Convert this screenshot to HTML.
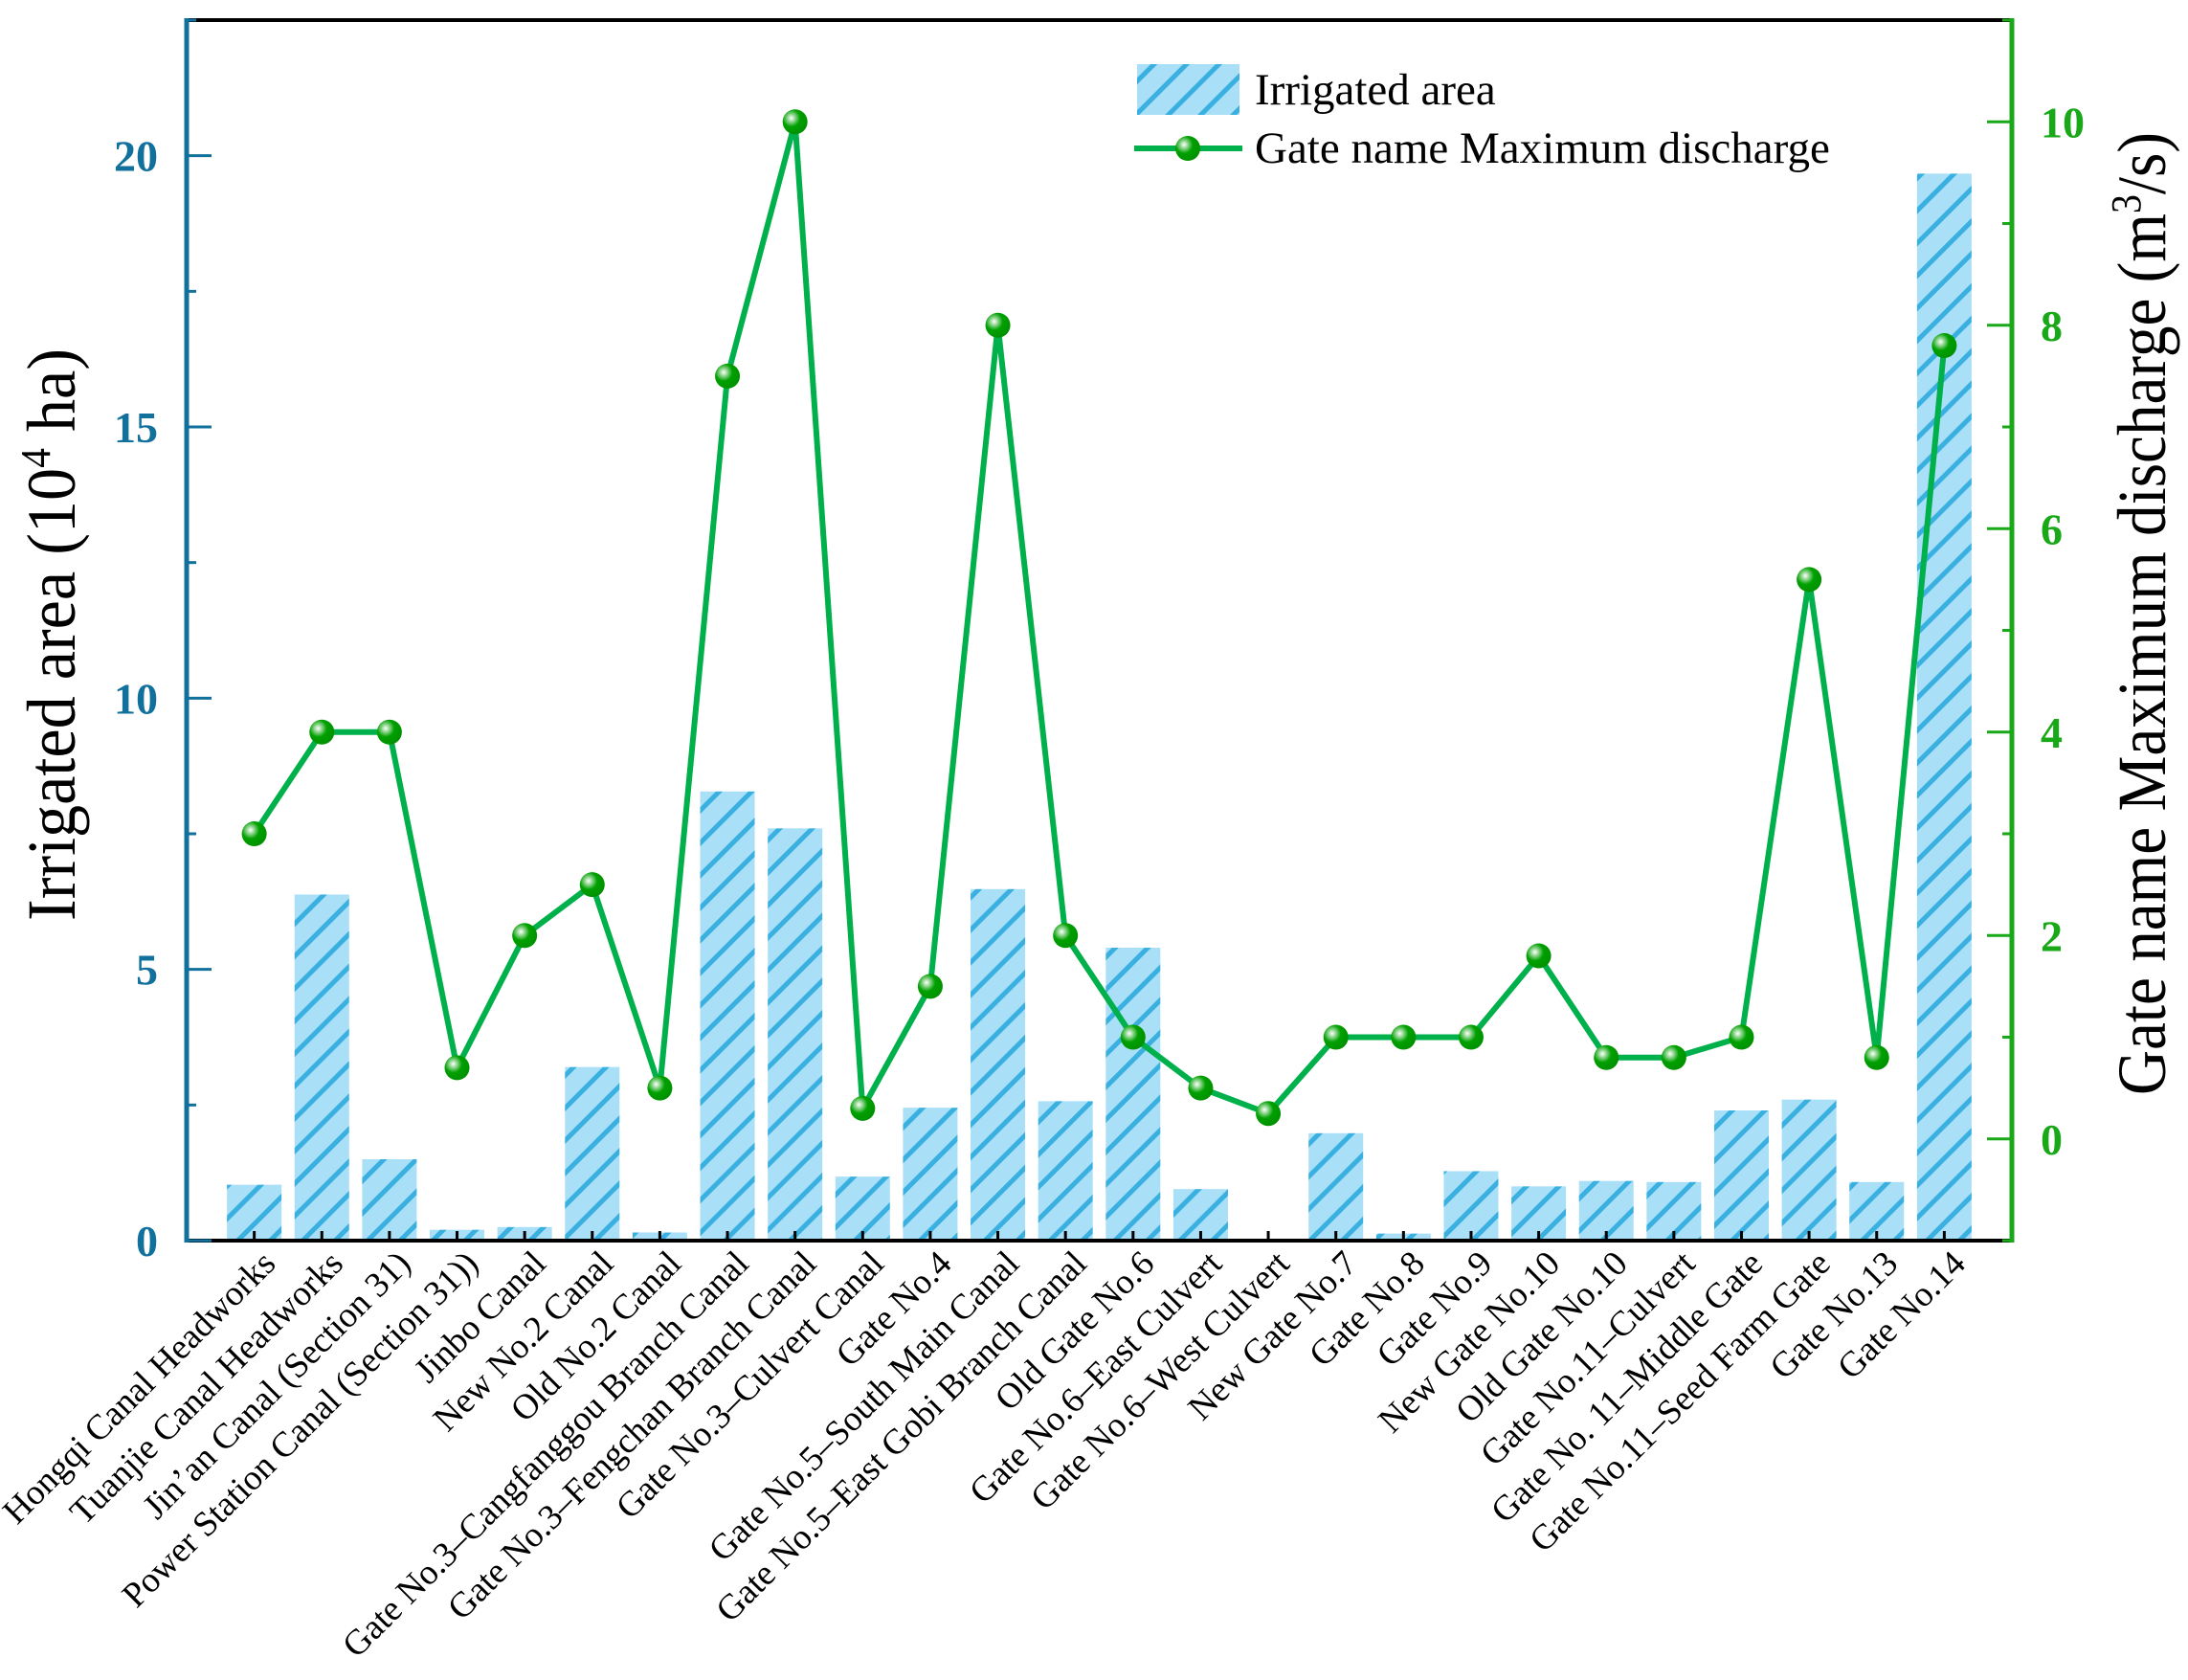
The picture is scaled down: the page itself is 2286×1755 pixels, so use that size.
<!DOCTYPE html>
<html><head><meta charset="utf-8"><style>
html,body{margin:0;padding:0;background:#fff}
svg{display:block;font-family:"Liberation Serif",serif}
</style></head><body>
<svg id="chart" width="2286" height="1755" viewBox="0 0 2286 1755" xmlns="http://www.w3.org/2000/svg">
<defs>
<pattern id="hatch" patternUnits="userSpaceOnUse" width="24" height="24" patternTransform="rotate(45)">
<rect width="24" height="24" fill="#aadff8"/>
<line x1="12" y1="0" x2="12" y2="24" stroke="#3ab0e0" stroke-width="5"/>
</pattern>
<radialGradient id="ball" cx="0.35" cy="0.35" r="0.7">
<stop offset="0" stop-color="#ffffff"/><stop offset="0.25" stop-color="#7fd07f"/><stop offset="0.5" stop-color="#00a000"/><stop offset="1" stop-color="#009000"/>
</radialGradient>
</defs>
<g id="bars"></g>
<g id="line"></g>
<g id="axes"></g>
<g id="labels"></g>
<g id="legend">
<rect x="1188" y="67" width="107" height="53" fill="url(#hatch)"/>
<text x="1311" y="109" font-size="47">Irrigated area</text>
<line x1="1185" y1="155" x2="1298" y2="155" stroke="#00b04a" stroke-width="6"/>
<circle cx="1241" cy="155" r="13" fill="url(#ball)"/>
<text x="1311" y="170" font-size="47">Gate name Maximum discharge</text>
</g>
</svg>
<script>
const categories=["Hongqi Canal Headworks","Tuanjie Canal Headworks","Jin\u2019an Canal (Section 31)","Power Station Canal (Section 31))","Jinbo Canal","New No.2 Canal","Old No.2 Canal","Gate No.3\u2013Cangfanggou Branch Canal","Gate No.3\u2013Fengchan Branch Canal","Gate No.3\u2013Culvert Canal","Gate No.4","Gate No.5\u2013South Main Canal","Gate No.5\u2013East Gobi Branch Canal","Old Gate No.6","Gate No.6\u2013East Culvert","Gate No.6\u2013West Culvert","New Gate No.7","Gate No.8","Gate No.9","New Gate No.10","Old Gate No.10","Gate No.11\u2013Culvert","Gate No. 11\u2013Middle Gate","Gate No.11\u2013Seed Farm Gate","Gate No.13","Gate No.14"];
const irrigatedArea=[1.03,6.38,1.5,0.2,0.25,3.2,0.15,8.28,7.6,1.18,2.45,6.48,2.57,5.4,0.95,0,1.98,0.13,1.28,1.0,1.1,1.08,2.4,2.6,1.08,19.67];
const maxDischarge=[3.0,4.0,4.0,0.7,2.0,2.5,0.5,7.5,10.0,0.3,1.5,8.0,2.0,1.0,0.5,0.25,1.0,1.0,1.0,1.8,0.8,0.8,1.0,5.5,0.8,7.8];
const leftTicks=[0,5,10,15,20];
const rightTicks=[0,2,4,6,8,10];

const NS="http://www.w3.org/2000/svg";
const X0=195,X1=2102,YT=21,YB=1296;
const xs=i=>X0+(i+1)*(X1-X0)/27;
const yL=v=>YB-v*(YB-YT)/22.5;
const yR=v=>YB-(v+1)*(YB-YT)/12;
function mk(tag,attrs,parent){const e=document.createElementNS(NS,tag);for(const k in attrs)e.setAttribute(k,attrs[k]);parent.appendChild(e);return e;}
const gb=document.getElementById('bars'),gl=document.getElementById('line'),ga=document.getElementById('axes'),gt=document.getElementById('labels');
const bw=57;
irrigatedArea.forEach((v,i)=>{
 const r=mk('rect',{x:xs(i)-bw/2,y:yL(v),width:bw,height:YB-yL(v),fill:'url(#hatch)'},gb);
 
 
});
const pts=maxDischarge.map((v,i)=>xs(i)+','+yR(v)).join(' ');
const pl=mk('polyline',{points:pts,fill:'none',stroke:'#00b04a','stroke-width':6,'stroke-linejoin':'round'},gl);


maxDischarge.forEach((v,i)=>{
 const c=mk('circle',{cx:xs(i),cy:yR(v),r:13,fill:'url(#ball)'},gl);
 
 
});
const topBorder=mk('line',{x1:X0,y1:YT,x2:X1,y2:YT,stroke:'#000','stroke-width':4},ga);


const xa=mk('line',{x1:X0,y1:YB,x2:X1,y2:YB,stroke:'#000','stroke-width':4},ga);


const la=mk('line',{x1:X0,y1:YT-2,x2:X0,y2:YB+2,stroke:'#11719c','stroke-width':5},ga);


const ra=mk('line',{x1:X1,y1:YT-2,x2:X1,y2:YB+2,stroke:'#18a818','stroke-width':5},ga);


for(let v=0;v<=22.5;v+=2.5){const major=v%5===0;mk('line',{x1:X0,y1:yL(v),x2:X0+(major?26:10),y2:yL(v),stroke:'#11719c','stroke-width':3},ga);}
leftTicks.forEach(v=>{const t=mk('text',{x:X0-30,y:yL(v)+16,'text-anchor':'end','font-size':46,'font-weight':'bold',fill:'#11719c'},ga);t.textContent=v;
 
 });
for(let v=-1;v<=11;v+=1){const major=v%2===0&&v>=0;mk('line',{x1:X1,y1:yR(v),x2:X1-(major?26:10),y2:yR(v),stroke:'#18a818','stroke-width':3},ga);}
rightTicks.forEach(v=>{const t=mk('text',{x:X1+30,y:yR(v)+16,'text-anchor':'start','font-size':46,'font-weight':'bold',fill:'#18a818'},ga);t.textContent=v;
 
 });
categories.forEach((c,i)=>{
 mk('line',{x1:xs(i),y1:YB,x2:xs(i),y2:YB-10,stroke:'#000','stroke-width':3},ga);
 const x=xs(i)+24,y=1322;
 const t=mk('text',{x:x,y:y,'text-anchor':'end','font-size':37,transform:`rotate(-45 ${x} ${y})`},gt);
 t.textContent=c;
 
 
});
const yt=mk('text',{x:0,y:0,'text-anchor':'middle','font-size':72,textLength:598,lengthAdjust:'spacingAndGlyphs',transform:'translate(78 663) rotate(-90)'},ga);
yt.innerHTML='Irrigated area (10<tspan font-size="44" dy="-26">4</tspan><tspan dy="26"> ha)</tspan>';


const yt2=mk('text',{x:0,y:0,'text-anchor':'middle','font-size':72,textLength:1006,lengthAdjust:'spacingAndGlyphs',transform:'translate(2262 641) rotate(-90)'},ga);
yt2.innerHTML='Gate name Maximum discharge (m<tspan font-size="44" dy="-26">3</tspan><tspan dy="26">/s)</tspan>';


</script>
</body></html>
